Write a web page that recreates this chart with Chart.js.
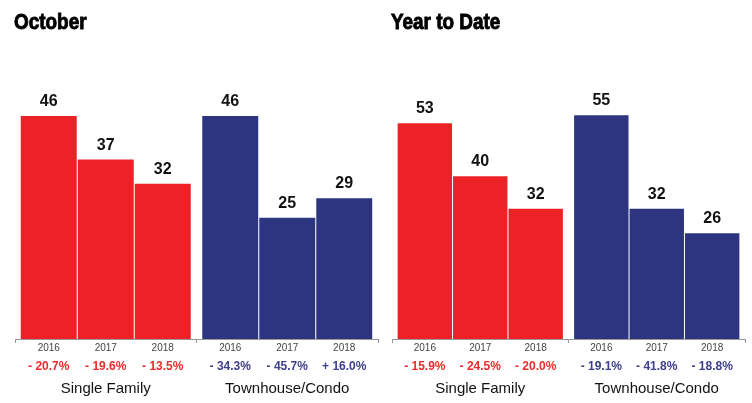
<!DOCTYPE html>
<html>
<head>
<meta charset="utf-8">
<script src="https://cdn.jsdelivr.net/npm/chart.js@4"></script>
<style>
  html, body { margin: 0; padding: 0; background: #fff; }
  #wrap { position: relative; width: 752px; height: 403px; overflow: hidden; }
  #octChart { position: absolute; left: 0; top: 0; }
  #ytdChart { position: absolute; left: 385px; top: 0; }
</style>
</head>
<body>
<div id="wrap">
  <canvas id="octChart" width="385" height="403"></canvas>
  <canvas id="ytdChart" width="367" height="403"></canvas>
</div>
<script>
const years = ['2016', '2017', '2018'];
const groups = ['Single Family', 'Townhouse/Condo'];

const octSingle = [46, 37, 32];
const octTown = [46, 25, 29];
const octSingleChg = ['- 20.7%', '- 19.6%', '- 13.5%'];
const octTownChg = ['- 34.3%', '- 45.7%', '+ 16.0%'];

const ytdSingle = [53, 40, 32];
const ytdTown = [55, 32, 26];
const ytdSingleChg = ['- 15.9%', '- 24.5%', '- 20.0%'];
const ytdTownChg = ['- 19.1%', '- 41.8%', '- 18.8%'];

const RED = '#ed2227';
const BLUE = '#2d3580';
const PCT_RED = '#ee2b2b';
const PCT_BLUE = '#3b3f8c';
const SANS = "'Liberation Sans', Arial, Helvetica, sans-serif";

// condensed-looking panel title (no narrow font installed, so squeeze it)
const panelTitle = {
  id: 'panelTitle',
  afterDraw(chart, args, opts) {
    const ctx = chart.ctx;
    ctx.save();
    ctx.translate(opts.x, 29);
    ctx.scale(0.86, 1);
    ctx.fillStyle = '#000';
    ctx.strokeStyle = '#000';
    ctx.lineWidth = 0.9;
    ctx.font = 'bold 22px ' + SANS;
    ctx.textAlign = 'left';
    ctx.textBaseline = 'alphabetic';
    ctx.fillText(opts.text, 0, 0);
    ctx.strokeText(opts.text, 0, 0);
    ctx.restore();
  }
};

// labels above and below each bar
const barText = {
  id: 'barText',
  afterDatasetsDraw(chart, args, opts) {
    const ctx = chart.ctx;
    const bottom = chart.chartArea.bottom;
    ctx.save();
    ctx.textAlign = 'center';
    chart.data.datasets.forEach((ds, i) => {
      const meta = chart.getDatasetMeta(i);
      meta.data.forEach((bar, j) => {
        // value
        ctx.fillStyle = '#111';
        ctx.font = 'bold 16px ' + SANS;
        ctx.textBaseline = 'alphabetic';
        ctx.fillText(ds.data[j], bar.x, bar.y - 10);
        // year
        ctx.fillStyle = '#444';
        ctx.font = '10px ' + SANS;
        ctx.textBaseline = 'middle';
        ctx.fillText(years[i], bar.x, bottom + 9);
        // change
        ctx.fillStyle = j === 0 ? PCT_RED : PCT_BLUE;
        ctx.font = 'bold 12px ' + SANS;
        ctx.fillText(opts.changes[j][i], bar.x, bottom + 28);
      });
    });
    ctx.restore();
  }
};

function makeChart(id, title, single, town, singleChg, townChg, yMax, pad) {
  const datasets = years.map((y, i) => ({
    label: y,
    data: [single[i], town[i]],
    backgroundColor: [RED, BLUE],
    categoryPercentage: 0.942,
    barPercentage: 0.982
  }));

  return new Chart(document.getElementById(id), {
    type: 'bar',
    data: { labels: groups, datasets: datasets },
    plugins: [barText, panelTitle],
    options: {
      responsive: false,
      animation: false,
      layout: { padding: { left: pad.left, right: pad.right, top: 48, bottom: 5 } },
      plugins: {
        legend: { display: false },
        tooltip: { enabled: false },
        title: { display: false },
        panelTitle: { text: title, x: pad.title },
        barText: { changes: [singleChg, townChg] }
      },
      scales: {
        x: {
          grid: { drawOnChartArea: false, drawTicks: true, tickLength: 4, color: '#999' },
          border: { display: true, color: '#999' },
          ticks: { color: '#111', padding: 37, maxRotation: 0, font: { family: SANS, size: 15 } },
          afterFit(scale) {
            scale.height = 59;
            scale.paddingLeft = 0;
            scale.paddingRight = 0;
          }
        },
        y: {
          display: false,
          min: 0,
          max: yMax
        }
      }
    }
  });
}

makeChart('octChart', 'October', octSingle, octTown, octSingleChg, octTownChg, 60, { left: 15, right: 7, title: 14 });
makeChart('ytdChart', 'Year to Date', ytdSingle, ytdTown, ytdSingleChg, ytdTownChg, 71.5, { left: 7, right: 7, title: 6 });
</script>
</body>
</html>
